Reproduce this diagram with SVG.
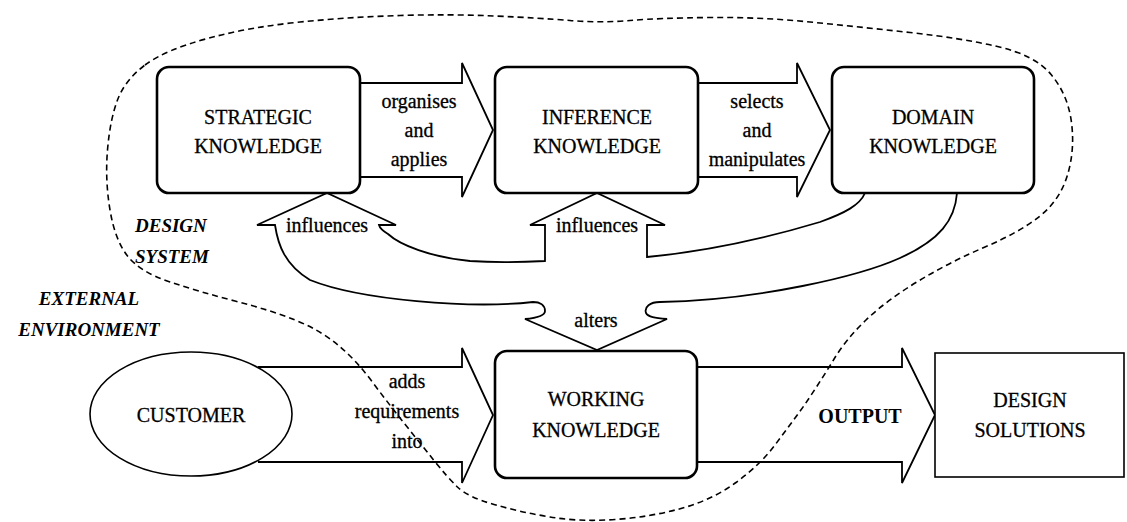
<svg xmlns="http://www.w3.org/2000/svg" width="1127" height="522" viewBox="0 0 1127 522" font-family="Liberation Serif, DejaVu Serif, serif">
<style>
.box{fill:#fff;stroke:#000;stroke-width:2.6}
.plain{fill:#fff;stroke:#000;stroke-width:1.6}
.conn{fill:none;stroke:#000;stroke-width:1.8;stroke-linejoin:miter}
.dash{fill:none;stroke:#000;stroke-width:1.6;stroke-dasharray:6 4}
.t{font-family:'Liberation Serif','DejaVu Serif',serif;font-size:20px;fill:#000;stroke:#000;stroke-width:0.3;text-anchor:middle}
.bi{font-weight:bold;font-style:italic;font-size:19px;stroke-width:0}
.left{text-anchor:start}
.b{font-weight:bold;stroke-width:0}
</style>
<rect width="1127" height="522" fill="#fff"/>
<g id="boundary">
<path class="dash" d="M145,65 Q165,50 207.5,38.5 Q250,27 300,22 Q350,17 400,15.5 Q450,14 495,16 Q540,18 570,20.5 Q600,23 630,20.5 Q660,18 710,17.5 Q760,17 810,22 Q860,27 910,32.5 Q960,38 997.5,46.5 Q1035,55 1051.5,75 Q1068,95 1071.5,122.5 Q1075,150 1067.5,175 Q1060,200 1040,216 Q1020,232 985,247 Q950,262 918.5,281 Q887,300 866,320 Q845,340 832,362.5 Q818,385 804.5,405 Q790,425 775,445 Q760,465 736,482.5 Q712,500 681,508.5 Q650,517 615,519.5 Q580,522 550,517 Q520,512 494,504.5 Q468,497 458,487.5 Q448,478 434,460.5 Q420,443 404,423 Q388,403 372,381.5 Q356,360 338,345 Q320,330 295,320 Q270,310 235,301 Q200,292 170,282 Q140,272 127.5,256 Q115,240 110,210 Q105,180 107.5,150 Q110,120 117.5,100 Q125,80 145,65 Z"/>
</g>
<g id="connectors">
<path class="conn" d="M360,83 H462 V63 L493,130 L462,197 V177 H360"/>
<path class="conn" d="M697,83 H797 V63 L830,130 L797,197 V177 H697"/>
<path class="conn" d="M258,367 H462 V348 L493,415 L462,483 V462 H258"/>
<path class="conn" d="M697,367 H902 V348 L935,415 L902,483 V462 H697"/>
<path class="conn" d="M957,193 C955,220 940,240 900,258 C860,276 760,300 660,302 C650,302 644,307 646,313 C648,317 655,318 667,319 L597,350 L525,319 C537,318 545,316 545,311 C545,305 540,302 533,302 C470,309 360,300 310,280 C285,265 278,245 275,225 L257,225 L327,193 L396,225 L379,225 C380,229 383,231 388,234 C400,245 430,257 470,261 C500,263 525,262 545,261 L545,225 L530,225 L597,193 L665,225 L647,225 L647,257 C700,252 760,240 820,222 C845,213 860,205 865,193"/>
</g>
<g id="strategic">
<rect class="box" x="157" y="67" width="203" height="126" rx="12"/>
<text class="t" x="258" y="124">STRATEGIC</text>
<text class="t" x="258" y="153">KNOWLEDGE</text>
</g>
<g id="inference">
<rect class="box" x="495" y="67" width="203" height="126" rx="12"/>
<text class="t" x="597" y="124">INFERENCE</text>
<text class="t" x="597" y="153">KNOWLEDGE</text>
</g>
<g id="domain">
<rect class="box" x="832" y="67" width="202" height="126" rx="12"/>
<text class="t" x="933" y="124">DOMAIN</text>
<text class="t" x="933" y="153">KNOWLEDGE</text>
</g>
<g id="working">
<rect class="box" x="495" y="351" width="202" height="127" rx="12"/>
<text class="t" x="596" y="406">WORKING</text>
<text class="t" x="596" y="437">KNOWLEDGE</text>
</g>
<g id="customer">
<ellipse class="plain" cx="191" cy="414" rx="101" ry="62"/>
<text class="t" x="191" y="422">CUSTOMER</text>
</g>
<g id="design-solutions">
<rect class="plain" x="935" y="353" width="189" height="124"/>
<text class="t" x="1030" y="407">DESIGN</text>
<text class="t" x="1030" y="437">SOLUTIONS</text>
</g>
<g id="labels">
<text class="t" x="419" y="108">organises</text>
<text class="t" x="419" y="137">and</text>
<text class="t" x="419" y="166">applies</text>
<text class="t" x="757" y="108">selects</text>
<text class="t" x="757" y="137">and</text>
<text class="t" x="757" y="166">manipulates</text>
<text class="t" x="327" y="232">influences</text>
<text class="t" x="597" y="232">influences</text>
<text class="t" x="596" y="327">alters</text>
<text class="t" x="407" y="388">adds</text>
<text class="t" x="407" y="418">requirements</text>
<text class="t" x="407" y="448">into</text>
<text class="t b" x="860" y="423">OUTPUT</text>
<text class="t bi left" x="135" y="232">DESIGN</text>
<text class="t bi left" x="135" y="263">SYSTEM</text>
<text class="t bi" x="89" y="305">EXTERNAL</text>
<text class="t bi" x="89" y="336">ENVIRONMENT</text>
</g>
</svg>
